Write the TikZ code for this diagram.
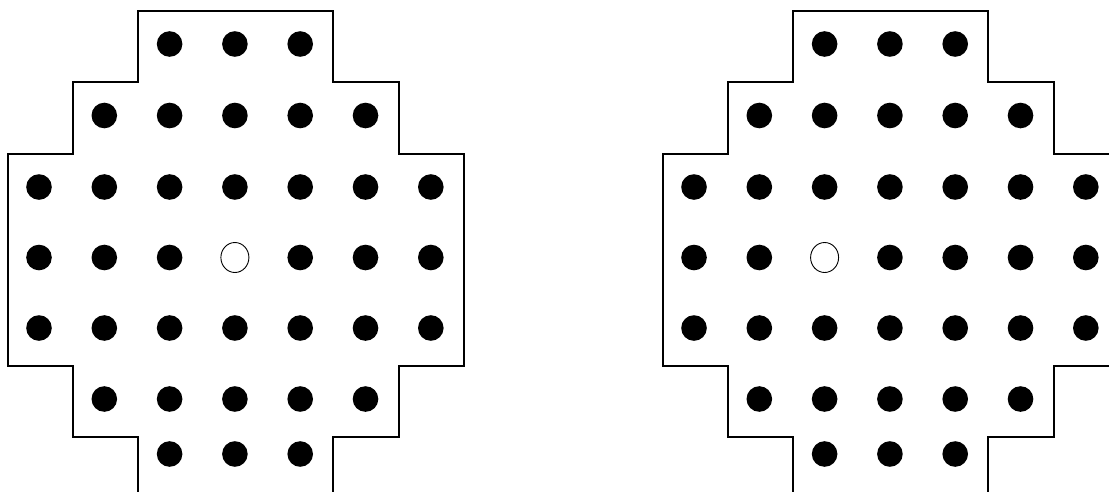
\documentclass[tikz,border=0pt]{standalone}
\tikzset{
  peg/.style={fill=black},
  hole/.style={draw=black, line width=0.9pt, fill=white},
  boardedge/.style={line width=1.8pt, line join=miter}
}

\begin{document}
\begin{tikzpicture}[x=1pt, y=-1pt]
  \useasboundingbox (0,0) rectangle (1109,491);
  \clip (0,0) rectangle (1109,491);
  % two boards, the second shifted right, with the empty hole in another column
  \foreach \dx/\ex in {0/4, 655/3} {
    \begin{scope}[xshift=\dx pt]
      \draw[boardedge] (138,500) -- (138,437) -- (73,437) -- (73,366) -- (8,366)
        -- (8,154) -- (73,154) -- (73,82) -- (138,82) -- (138,11) -- (333,11)
        -- (333,82) -- (399,82) -- (399,154) -- (464,154) -- (464,366)
        -- (399,366) -- (399,437) -- (333,437) -- (333,500);
      \foreach \r/\y/\cmin/\cmax in {1/44/3/5, 2/115.5/2/6, 3/187/1/7, 4/257.5/1/7,
                                     5/328/1/7, 6/399/2/6, 7/454/3/5} {
        \foreach \c in {\cmin,...,\cmax} {
          \pgfmathsetmacro\px{39+65.3*(\c-1)}
          \pgfmathtruncatemacro\isempty{and(\r==4,\c==\ex)}
          \ifnum\isempty=1
            \draw[hole] (\px,\y) ellipse [x radius=14, y radius=15];
          \else
            \fill[peg] (\px,\y) circle (12.8);
          \fi
        }
      }
    \end{scope}
  }
\end{tikzpicture}
\end{document}
